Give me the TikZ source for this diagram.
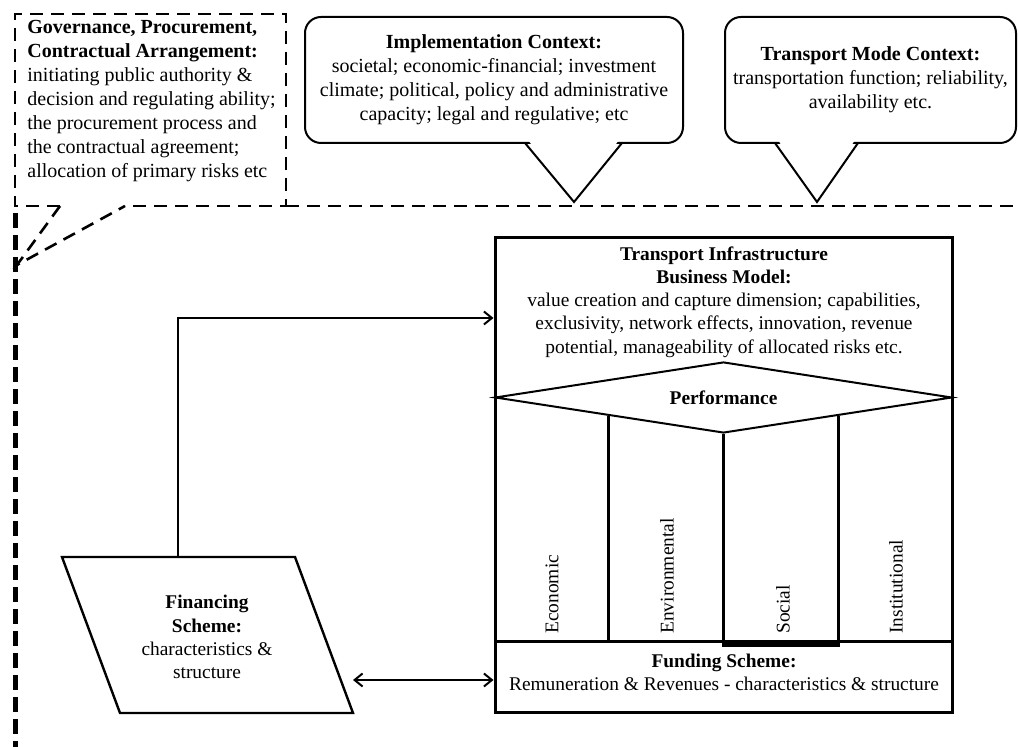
\documentclass[tikz,border=0pt]{standalone}
\usepackage{fontspec}
\setmainfont{Liberation Serif}
\usepackage{tikz}
\usetikzlibrary {arrows.meta, shapes.geometric}
\newcommand*{\callfont}{\fontsize{10}{12}\selectfont}
\newcommand*{\boxfont}{\fontsize{9.7}{11.6}\selectfont}

\begin{document}
\begin{tikzpicture}[
        x=0.5pt, y=-0.5pt, >={Straight Barb[length=4pt,width=6.5pt]},
        dashline/.style={line width=1.3pt, dash pattern=on 6.5pt off 4pt},
        thickdash/.style={line width=2.5pt, dash pattern=on 7.5pt off 3.5pt},
        callout/.style={draw, line width=1pt, rounded corners=8pt, align=center, font=\callfont, inner sep=0pt},
        tail/.style={line width=1pt},
        bigbox/.style={draw, line width=1.5pt, inner sep=0pt},
        txt/.style={align=center, font=\boxfont, inner sep=0pt},
        column/.style={rotate=90, anchor=west, font=\boxfont, inner sep=0pt},
        ]
        \useasboundingbox (0,0) rectangle (1018,747);

        % governance callout and frame
        \node[anchor=north west, align=left, font=\callfont, inner sep=0pt] (gov) at (27,20)
            {\textbf{Governance, Procurement,}\\\textbf{Contractual Arrangement:}\\initiating public authority \&\\decision and regulating ability;\\the procurement process and\\the contractual agreement;\\allocation of primary risks etc};
        \draw[dashline] (60,206) -- (15,206) -- (15,14) -- (286,14) -- (286,206) -- (125,206);
        \draw[dashline] (286,206) -- (1018,206);
        \draw[dashline] (60,206) -- (17,265) -- (125,206);
        \draw[thickdash] (15,213) -- (15,747);

        % context callouts
        \node[callout, minimum width=189pt, minimum height=63pt] (impl) at (494,80)
            {\textbf{Implementation Context:}\\societal; economic-financial; investment\\climate; political, policy and administrative\\capacity; legal and regulative; etc};
        \fill[white] (528,140) -- (574,199) -- (619,140) -- cycle;
        \draw[tail] (525,143) -- (574,202) -- (622,143);

        \node[callout, minimum width=145.5pt, minimum height=63pt] (mode) at (870.5,80)
            {\textbf{Transport Mode Context:}\\transportation function; reliability,\\availability etc.};
        \fill[white] (778,140) -- (817,199) -- (855,140) -- cycle;
        \draw[tail] (775,143) -- (817,202) -- (858,143);

        % business model
        \node[bigbox, minimum width=228.5pt, minimum height=202pt] (bm) at (723.5,440) {};
        \node[txt] (bmtxt) at (724,302)
            {\textbf{Transport Infrastructure}\\\textbf{Business Model:}\\value creation and capture dimension; capabilities,\\exclusivity, network effects, innovation, revenue\\potential, manageability of allocated risks etc.};
        \node[diamond, draw, line width=1pt, aspect=6.4, minimum width=228.5pt, minimum height=35.5pt,
              inner sep=0pt, fill=white, font=\boxfont\bfseries] (perf) at (723.5,397.5) {Performance};

        \node[bigbox, minimum width=228.5pt, minimum height=35.5pt] (fund) at (723.5,677.5) {};
        \node[txt] (fundtxt) at (724,672)
            {\textbf{Funding Scheme:}\\Remuneration \& Revenues - characteristics \& structure};

        \draw[line width=1.3pt] (perf.south west) -- (perf.south west |- fund.north);
        \draw[line width=1.6pt] (perf.south) -- ++(0,211) -| (perf.south east);

        \node[column] (econ) at (552,634) {Economic};
        \node[column] (env) at (667,634) {Environmental};
        \node[column] (soc) at (783,634) {Social};
        \node[column] (inst) at (896,634) {Institutional};

        % financing scheme
        \draw[line width=1.2pt] (62,557) -- (295,557) -- (353,713) -- (120,713) -- cycle;
        \node[txt] (fin) at (207,637)
            {\textbf{Financing}\\\textbf{Scheme:}\\characteristics \&\\structure};
        \coordinate (fintop) at (178,557);
        \coordinate (finr) at (353,680);

        \draw[->, line width=1pt] (fintop) |- ([yshift=61pt]bm.west);
        \draw[<->, line width=1pt] (finr) -- (finr -| fund.west);
      \end{tikzpicture}
\end{document}
